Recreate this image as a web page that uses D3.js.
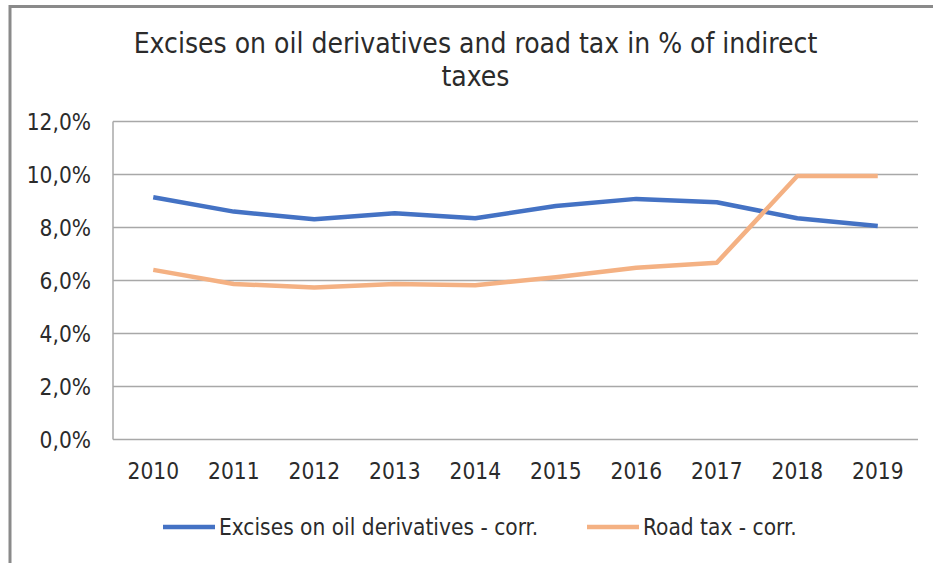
<!DOCTYPE html>
<html>
<head>
<meta charset="utf-8">
<script src="https://cdn.jsdelivr.net/npm/d3@7"></script>
<style>
  html, body { margin: 0; padding: 0; background: #fff; }
  svg { display: block; }
  text { font-family: "DejaVu Sans Condensed", "DejaVu Sans", sans-serif; fill: #2b2b2b; }
</style>
</head>
<body>
<script>
// Chart data
const years = ["2010","2011","2012","2013","2014","2015","2016","2017","2018","2019"];
const exciseOil = [9.14, 8.60, 8.31, 8.54, 8.35, 8.81, 9.08, 8.95, 8.35, 8.06];
const roadTax   = [6.40, 5.87, 5.74, 5.87, 5.82, 6.12, 6.48, 6.67, 9.94, 9.94];
const yTicks = [0, 2, 4, 6, 8, 10, 12];
const seriesNames = ["Excises on oil derivatives - corr.", "Road tax - corr."];
const seriesColors = ["#4472C4", "#F4B183"];
const titleLines = ["Excises on oil derivatives and road tax in % of indirect", "taxes"];

const W = 933, H = 563;
const svg = d3.select("body").append("svg").attr("width", W).attr("height", H);

// Outer frame (top and left edges)
svg.append("line").attr("x1", 9).attr("x2", W).attr("y1", 6.5).attr("y2", 6.5)
  .attr("stroke", "#8a8a8a").attr("stroke-width", 3);
svg.append("line").attr("x1", 10).attr("x2", 10).attr("y1", 5).attr("y2", H)
  .attr("stroke", "#8a8a8a").attr("stroke-width", 3);

// Title (two wrapped lines)
svg.append("g").selectAll("text").data(titleLines).join("text")
  .attr("text-anchor", "middle").style("font-size", "28px")
  .attr("x", 475.5)
  .attr("y", (d, i) => 52.5 + i * 33)
  .text(d => d);

const plotL = 113, plotR = 918, plotT = 121.5, plotB = 439.5;
const x = d3.scaleBand().domain(years).range([plotL, plotR]);
const y = d3.scaleLinear().domain([0, 12]).range([plotB, plotT]);
const fmt = d => d3.format(".1f")(d).replace(".", ",") + "%";

// Horizontal gridlines
svg.append("g").selectAll("line").data(yTicks).join("line")
  .attr("x1", plotL).attr("x2", plotR)
  .attr("y1", d => y(d)).attr("y2", d => y(d))
  .attr("stroke", "#a8a8a8").attr("stroke-width", 1.5);

// Left edge of plot area
svg.append("line").attr("x1", plotL).attr("x2", plotL).attr("y1", plotT).attr("y2", plotB)
  .attr("stroke", "#a8a8a8").attr("stroke-width", 1.5);

const labelFont = "'DejaVu Sans Condensed', 'DejaVu Sans', sans-serif";

// Y axis labels
const yAxis = d3.axisLeft(y).tickValues(yTicks).tickFormat(fmt).tickSize(0).tickPadding(0);
const gy = svg.append("g").attr("transform", `translate(91,0)`).call(yAxis);
gy.select(".domain").remove();
gy.selectAll("text").style("font-size", "22.5px").attr("fill", "#2b2b2b").attr("dy", "0.36em")
  .style("font-family", labelFont);

// X axis labels
const xAxis = d3.axisBottom(x).tickSize(0).tickPadding(0);
const gx = svg.append("g").attr("transform", `translate(0,471)`).call(xAxis);
gx.select(".domain").remove();
gx.selectAll("text").style("font-size", "22.5px").attr("fill", "#2b2b2b").attr("dy", "0.36em")
  .style("font-family", labelFont);

// Series lines
const line = d3.line().x((d, i) => x(years[i]) + x.bandwidth() / 2).y(d => y(d));
[exciseOil, roadTax].forEach((vals, k) => {
  svg.append("path").datum(vals)
    .attr("d", line)
    .attr("fill", "none")
    .attr("stroke", seriesColors[k])
    .attr("stroke-width", 4.5)
    .attr("stroke-linejoin", "round");
});

// Legend
const legendItems = [
  { x0: 163, name: seriesNames[0], color: seriesColors[0] },
  { x0: 587, name: seriesNames[1], color: seriesColors[1] }
];
const lg = svg.append("g");
legendItems.forEach(it => {
  lg.append("line").attr("x1", it.x0).attr("x2", it.x0 + 52)
    .attr("y1", 527).attr("y2", 527)
    .attr("stroke", it.color).attr("stroke-width", 4.5);
  lg.append("text").attr("x", it.x0 + 56).attr("y", 527).attr("dy", "0.36em")
    .style("font-size", "22.5px").text(it.name);
});
</script>
</body>
</html>
